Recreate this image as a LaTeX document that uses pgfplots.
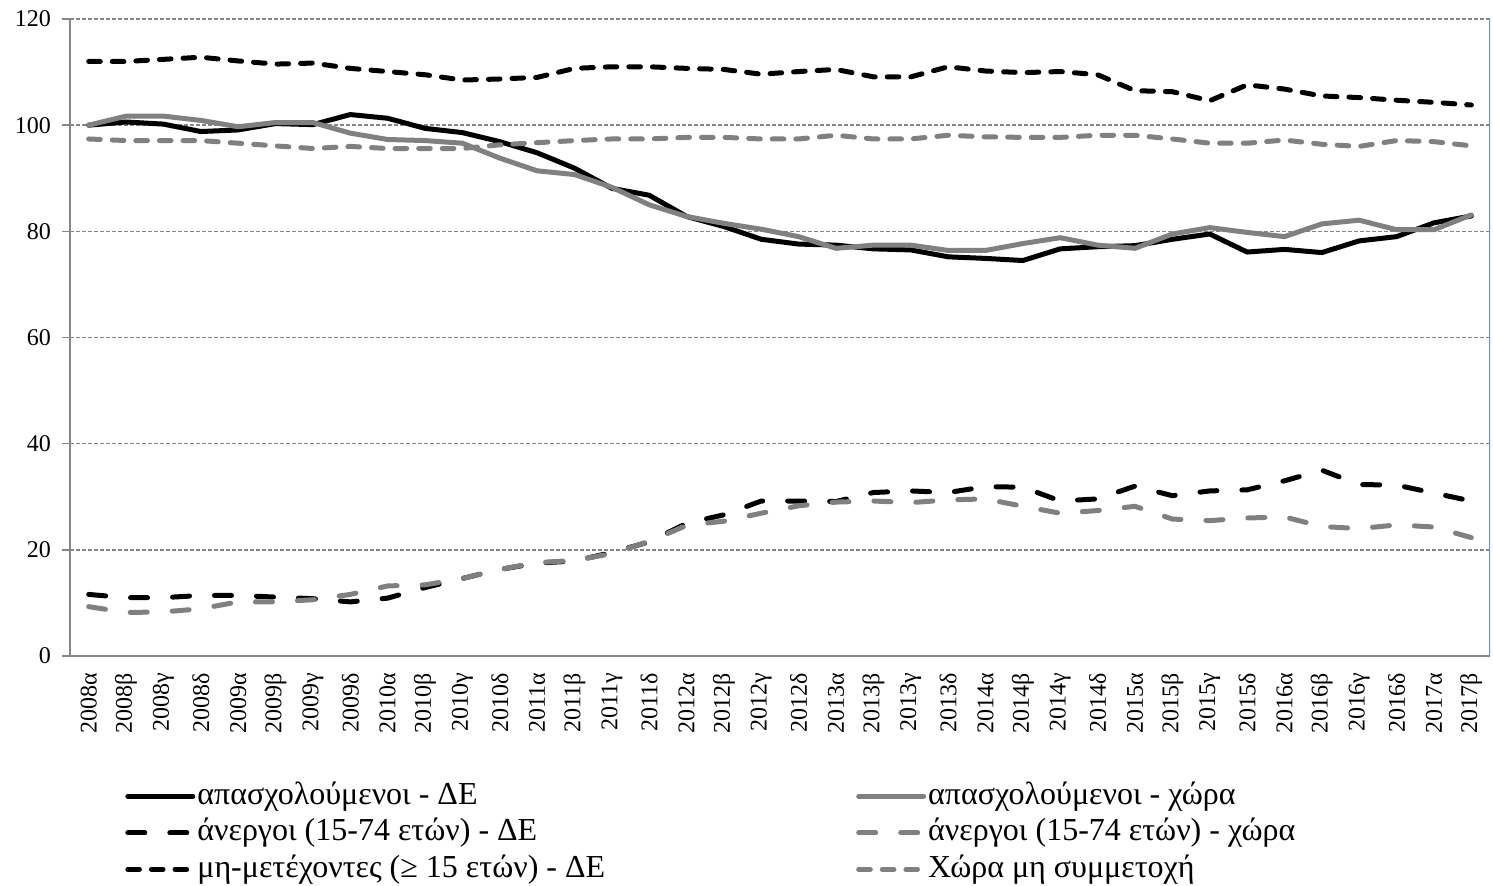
\documentclass[border=0pt]{standalone}
\usepackage{fontspec}
\setmainfont{Liberation Serif}
\usepackage{pgfplots}
\pgfplotsset{compat=1.18}
\usepackage{pgfplotstable}

\definecolor{sergray}{RGB}{128,128,128}
\definecolor{axgray}{RGB}{134,134,134}
\definecolor{edgeblue}{RGB}{110,140,200}

% columns: empl. DE, empl. country, unempl. DE, unempl. country, inactive DE, inactive country
\pgfplotstableread{
x  eDE   eCo   uDE   uCo   iDE   iCo
0  100.0 100.0 11.6  9.3   112.0 97.4
1  100.6 101.7 11.0  8.2   112.0 97.1
2  100.2 101.7 11.0  8.3   112.4 97.1
3  98.8  100.9 11.4  8.9   112.8 97.1
4  99.1  99.7  11.4  10.2  112.1 96.6
5  100.3 100.5 11.1  10.2  111.5 96.1
6  100.1 100.5 10.8  10.6  111.7 95.6
7  102.0 98.5  10.2  11.6  110.7 96.0
8  101.3 97.3  10.9  13.2  110.1 95.6
9  99.4  97.1  12.9  13.4  109.5 95.6
10 98.6  96.6  14.6  14.6  108.5 95.6
11 96.9  93.8  16.3  16.3  108.7 96.3
12 94.8  91.4  17.5  17.6  109.0 96.7
13 91.9  90.7  17.9  18.0  110.7 97.1
14 88.1  88.3  19.5  19.3  111.0 97.4
15 86.8  85.0  21.5  21.6  111.0 97.4
16 82.8  82.8  25.0  24.6  110.7 97.7
17 80.9  81.5  26.6  25.4  110.5 97.7
18 78.5  80.4  29.2  26.9  109.6 97.4
19 77.6  79.0  29.2  28.3  110.1 97.4
20 77.4  76.8  29.1  29.0  110.5 98.1
21 76.7  77.4  30.8  29.2  109.1 97.4
22 76.5  77.4  31.1  28.9  109.1 97.4
23 75.2  76.4  30.8  29.4  111.0 98.1
24 74.9  76.4  31.9  29.6  110.2 97.8
25 74.5  77.7  31.8  28.2  109.9 97.7
26 76.7  78.8  29.2  26.9  110.1 97.7
27 77.1  77.4  29.6  27.4  109.5 98.1
28 77.3  76.8  32.0  28.2  106.5 98.1
29 78.5  79.5  30.2  25.8  106.3 97.4
30 79.5  80.7  31.1  25.5  104.6 96.6
31 76.1  79.8  31.3  26.0  107.6 96.6
32 76.6  79.0  33.0  26.2  106.8 97.2
33 76.0  81.4  35.0  24.4  105.5 96.4
34 78.2  82.1  32.3  24.0  105.2 96.0
35 79.0  80.3  32.2  24.7  104.7 97.1
36 81.6  80.3  30.7  24.3  104.3 96.9
37 82.9  83.1  29.2  22.3  103.8 96.1
}\datatable

\begin{document}
\begin{tikzpicture}
\path[use as bounding box] (-35pt,-114.5pt) rectangle (711.5pt,328pt);
\begin{axis}[
    at={(0pt,0pt)}, anchor=south west,
    scale only axis,
    width=710pt, height=318.5pt,
    xmin=-0.5, xmax=37.5,
    ymin=0, ymax=120,
    ytick={0,20,...,120},
    xtick={0,...,37},
    xticklabels={2008α,2008β,2008γ,2008δ,2009α,2009β,2009γ,2009δ,2010α,2010β,2010γ,2010δ,2011α,2011β,2011γ,2011δ,2012α,2012β,2012γ,2012δ,2013α,2013β,2013γ,2013δ,2014α,2014β,2014γ,2014δ,2015α,2015β,2015γ,2015δ,2016α,2016β,2016γ,2016δ,2017α,2017β},
    minor xtick={-0.5,0.5,...,37.5},
    axis lines*=left,
    axis line style={axgray, line width=1pt},
    tick align=outside,
    x tick style={draw=none},
    minor x tick style={axgray, line width=0.8pt},
    minor tick length=4pt,
    y tick style={axgray, line width=0.8pt},
    major tick length=4pt,
    ymajorgrids,
    major grid style={axgray, line width=0.7pt, dash pattern=on 2pt off 1pt},
    /pgf/number format/assume math mode=true,
    ticklabel style={font=\fontsize{12}{14}\selectfont},
    xticklabel style={rotate=90, anchor=east, xshift=-1pt},
    yticklabel style={xshift=-2pt},
    legend columns=2,
    legend cell align=left,
    legend style={
        at={(0.0387,-0.193)}, anchor=north west,
        draw=none, fill=none, inner sep=0pt,
        font=\fontsize{16}{18}\selectfont,
        nodes={inner sep=1pt, text height=11.5pt, text depth=3.5pt},
        row sep=1.25pt,
        /tikz/every even column/.append style={column sep=124.5pt},
    },
    legend image code/.code={\draw[#1] (0pt,0pt) -- (32.5pt,0pt);},
    every axis plot/.append style={line cap=round, line join=round, line width=2.5pt},
]
\addplot[black] table[x=x, y=eDE] {\datatable};
\addlegendentry{απασχολούμενοι - ΔΕ}
\addplot[sergray] table[x=x, y=eCo] {\datatable};
\addlegendentry{απασχολούμενοι - χώρα}
\addplot[black, dash pattern=on 8.5pt off 12.5pt] table[x=x, y=uDE] {\datatable};
\addlegendentry{άνεργοι (15-74 ετών) - ΔΕ}
\addplot[sergray, dash pattern=on 8.5pt off 12.5pt] table[x=x, y=uCo] {\datatable};
\addlegendentry{άνεργοι (15-74 ετών) - χώρα}
\addplot[black, dash pattern=on 5.8pt off 6pt] table[x=x, y=iDE] {\datatable};
\addlegendentry{μη-μετέχοντες (≥ 15 ετών) - ΔΕ}
\addplot[sergray, dash pattern=on 5.8pt off 6pt] table[x=x, y=iCo] {\datatable};
\addlegendentry{Χώρα μη συμμετοχή}
\draw[edgeblue, line width=0.8pt] (rel axis cs:1,0) -- (rel axis cs:1,1);
\end{axis}
\end{tikzpicture}
\end{document}
